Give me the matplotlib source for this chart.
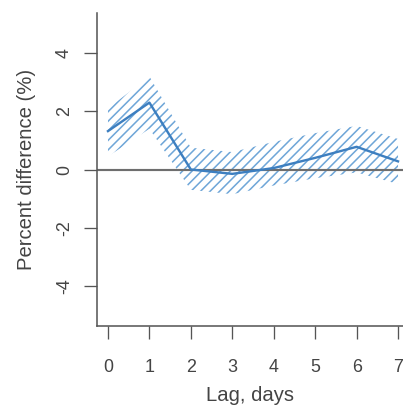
import matplotlib
matplotlib.use("Agg")
import matplotlib.pyplot as plt

# lag-response estimates
lags = [0, 1, 2, 3, 4, 5, 6, 7]
pct_diff = [1.32, 2.3, 0.0, -0.15, 0.05, 0.4, 0.78, 0.28]
ci_upper = [2.1, 3.2, 0.75, 0.6, 0.95, 1.25, 1.5, 1.05]
ci_lower = [0.45, 1.4, -0.7, -0.85, -0.55, -0.3, -0.1, -0.5]

ytick_vals = [-4, -2, 0, 2, 4]

DPI = 86
plt.rcParams['font.family'] = ['Liberation Sans', 'DejaVu Sans']
plt.rcParams['hatch.linewidth'] = 1.3

fig = plt.figure(figsize=(403 / DPI, 414 / DPI), dpi=DPI)
ax = fig.add_axes([97 / 403, 1 - 326 / 414, 1 - 97 / 403, (326 - 13) / 414])

blue = '#3d7fc0'
hatch_blue = '#6fa6d8'

ax.fill_between(lags, ci_lower, ci_upper, facecolor='none', edgecolor=hatch_blue,
                hatch='///', linewidth=0, zorder=1)
ax.axhline(0, color='#6e6e6e', lw=1.8, zorder=2)
ax.plot(lags, pct_diff, color=blue, lw=2.0, zorder=3)

ax.set_xlim(-0.265, 7.12)
ax.set_ylim(-5.38, 5.38)
ax.set_xticks(lags)
ax.set_yticks(ytick_vals)
ax.set_yticklabels([str(v) for v in ytick_vals], rotation=90, va='center')

for side in ['top', 'right']:
    ax.spines[side].set_visible(False)
for side in ['left', 'bottom']:
    ax.spines[side].set_color('#555555')
    ax.spines[side].set_linewidth(1.3)

ax.tick_params(axis='x', length=11, width=1.1, color='#555555', pad=17,
               labelsize=15, labelcolor='#444444')
ax.tick_params(axis='y', length=11, width=1.1, color='#555555', pad=9,
               labelsize=15, labelcolor='#444444')

ax.set_xlabel('Lag, days', fontsize=17, color='#444444', labelpad=8)
ax.set_ylabel('Percent difference (%)', fontsize=17, color='#444444', labelpad=17)

fig.savefig('out.png', dpi=DPI)
